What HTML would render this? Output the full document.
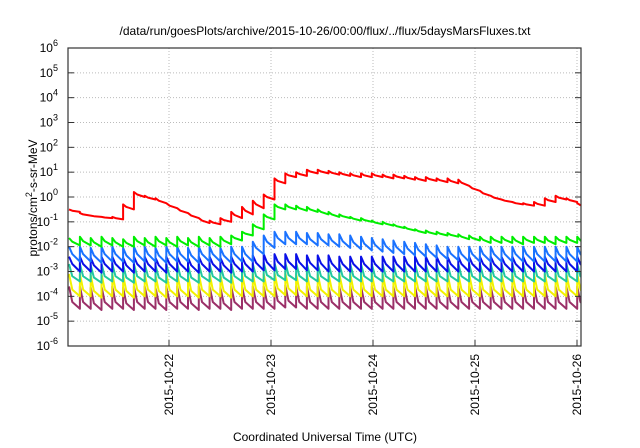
<!DOCTYPE html>
<html><head><meta charset="utf-8"><style>
html,body{margin:0;padding:0;background:#fff;}
svg{display:block;font-family:"Liberation Sans",sans-serif;}
</style></head><body>
<svg id="chart" width="640" height="448" viewBox="0 0 640 448" xmlns="http://www.w3.org/2000/svg">
<text x="325" y="35" font-size="12" text-anchor="middle">/data/run/goesPlots/archive/2015-10-26/00:00/flux/../flux/5daysMarsFluxes.txt</text>
<text transform="translate(37,198) rotate(-90)" font-size="12" text-anchor="middle">protons/cm<tspan dy="-5" font-size="9">2</tspan><tspan dy="5">-s-sr-MeV</tspan></text>
<text x="325" y="441" font-size="12" text-anchor="middle">Coordinated Universal Time (UTC)</text>
<g id="grid"></g><g id="series"></g><g id="axes"></g>
</svg>
<script>
const dayTicks = ["2015-10-22","2015-10-23","2015-10-24","2015-10-25","2015-10-26"];
const yExponents = [-6,-5,-4,-3,-2,-1,0,1,2,3,4,5,6];
const cycleCount = 48;
const cycleStartDay = 0.02, cycleLenDay = 0.106;
const redPeaks = [-0.5,-0.65,-0.75,-0.8,-0.8,-0.3,0.2,0.05,-0.05,-0.25,-0.45,-0.65,-0.85,-0.95,-0.85,-0.6,-0.4,-0.15,0.1,0.75,0.95,1.0,1.1,1.1,1.05,1.0,0.95,0.95,0.95,0.9,0.9,0.85,0.8,0.8,0.75,0.75,0.7,0.45,0.25,0.05,-0.1,-0.2,-0.25,-0.2,-0.05,0.05,-0.05,-0.25];
const redTroughs = [-0.6,-0.75,-0.8,-0.85,-0.9,-0.5,0.0,-0.1,-0.25,-0.45,-0.65,-0.85,-1.05,-1.1,-1.0,-0.85,-0.7,-0.45,-0.1,0.55,0.8,0.85,0.95,0.95,0.9,0.85,0.8,0.8,0.8,0.75,0.75,0.7,0.65,0.65,0.6,0.55,0.45,0.25,0.05,-0.1,-0.2,-0.3,-0.35,-0.35,-0.2,-0.1,-0.2,-0.4];
const greenPeaks = [-1.65,-1.6,-1.65,-1.6,-1.65,-1.7,-1.6,-1.65,-1.6,-1.65,-1.6,-1.65,-1.6,-1.65,-1.6,-1.55,-1.4,-1.1,-0.7,-0.3,-0.3,-0.35,-0.4,-0.5,-0.6,-0.7,-0.8,-0.85,-0.95,-1.0,-1.1,-1.2,-1.3,-1.35,-1.4,-1.45,-1.5,-1.55,-1.6,-1.6,-1.6,-1.6,-1.6,-1.6,-1.6,-1.6,-1.6,-1.6];
const greenTroughs = [-1.95,-1.95,-2.0,-1.95,-2.0,-2.0,-1.95,-2.0,-1.95,-2.0,-1.95,-2.0,-1.95,-2.0,-1.9,-1.75,-1.55,-1.3,-0.9,-0.5,-0.5,-0.55,-0.6,-0.7,-0.8,-0.85,-0.95,-1.0,-1.1,-1.15,-1.25,-1.35,-1.45,-1.5,-1.55,-1.6,-1.7,-1.75,-1.85,-1.85,-1.85,-1.9,-1.85,-1.85,-1.9,-1.85,-1.85,-1.9];
const azurePeaks = [-2.0,-2.0,-2.05,-2.0,-2.0,-2.05,-2.0,-2.0,-2.05,-2.0,-2.0,-2.05,-2.0,-2.0,-2.05,-2.0,-2.0,-1.8,-1.55,-1.4,-1.4,-1.4,-1.45,-1.45,-1.5,-1.5,-1.55,-1.6,-1.65,-1.7,-1.75,-1.8,-1.85,-1.9,-1.95,-2.0,-2.0,-2.0,-2.0,-2.0,-2.0,-2.0,-2.0,-2.0,-2.0,-2.0,-2.0,-2.0];
const azureTroughs = [-2.6,-2.6,-2.65,-2.6,-2.6,-2.65,-2.6,-2.6,-2.65,-2.6,-2.6,-2.65,-2.6,-2.6,-2.65,-2.6,-2.6,-2.3,-2.05,-1.9,-1.9,-1.9,-1.95,-1.95,-2.0,-2.05,-2.1,-2.15,-2.2,-2.25,-2.3,-2.35,-2.4,-2.45,-2.5,-2.55,-2.6,-2.6,-2.6,-2.6,-2.6,-2.6,-2.6,-2.6,-2.6,-2.6,-2.6,-2.6];
const bluePeaks = [-2.4,-2.4,-2.45,-2.4,-2.4,-2.45,-2.4,-2.4,-2.45,-2.4,-2.4,-2.45,-2.4,-2.4,-2.45,-2.4,-2.4,-2.35,-2.3,-2.3,-2.3,-2.3,-2.35,-2.35,-2.35,-2.4,-2.4,-2.4,-2.4,-2.4,-2.4,-2.4,-2.4,-2.4,-2.4,-2.4,-2.4,-2.4,-2.4,-2.4,-2.4,-2.4,-2.4,-2.4,-2.4,-2.4,-2.4,-2.4];
const blueTroughs = [-3.0,-3.0,-3.05,-3.0,-3.0,-3.05,-3.0,-3.0,-3.05,-3.0,-3.0,-3.05,-3.0,-3.0,-3.05,-3.0,-3.0,-2.95,-2.95,-2.9,-2.9,-2.95,-2.95,-3.0,-3.0,-3.0,-3.0,-3.0,-3.0,-3.0,-3.0,-3.0,-3.0,-3.0,-3.0,-3.0,-3.0,-3.0,-3.0,-3.0,-3.0,-3.0,-3.0,-3.0,-3.0,-3.0,-3.0,-3.0];
const tealPeaks = [-2.7,-2.7,-2.75,-2.7,-2.7,-2.75,-2.7,-2.7,-2.75,-2.7,-2.7,-2.75,-2.7,-2.7,-2.75,-2.7,-2.7,-2.7,-2.65,-2.65,-2.65,-2.65,-2.7,-2.7,-2.7,-2.7,-2.7,-2.7,-2.7,-2.7,-2.7,-2.7,-2.7,-2.7,-2.7,-2.7,-2.7,-2.7,-2.7,-2.7,-2.7,-2.7,-2.7,-2.7,-2.7,-2.7,-2.7,-2.7];
const tealTroughs = [-3.4,-3.4,-3.45,-3.4,-3.4,-3.45,-3.4,-3.4,-3.45,-3.4,-3.4,-3.45,-3.4,-3.4,-3.45,-3.4,-3.4,-3.4,-3.35,-3.35,-3.35,-3.4,-3.4,-3.4,-3.4,-3.4,-3.4,-3.4,-3.4,-3.4,-3.4,-3.4,-3.4,-3.4,-3.4,-3.4,-3.4,-3.4,-3.4,-3.4,-3.4,-3.4,-3.4,-3.4,-3.4,-3.4,-3.4,-3.4];
const yellowPeaks = [-3.1,-3.1,-3.15,-3.1,-3.1,-3.15,-3.1,-3.1,-3.15,-3.1,-3.1,-3.15,-3.1,-3.1,-3.15,-3.1,-3.1,-3.1,-3.1,-3.05,-3.05,-3.1,-3.1,-3.1,-3.1,-3.1,-3.1,-3.1,-3.1,-3.1,-3.1,-3.1,-3.1,-3.1,-3.1,-3.1,-3.1,-3.1,-3.1,-3.1,-3.1,-3.1,-3.1,-3.1,-3.1,-3.1,-3.1,-3.1];
const yellowTroughs = [-4.0,-4.0,-4.05,-4.0,-4.0,-4.05,-4.0,-4.0,-4.05,-4.0,-4.0,-4.05,-4.0,-4.0,-4.05,-4.0,-4.0,-4.0,-4.0,-3.95,-3.95,-4.0,-4.0,-4.0,-4.0,-4.0,-4.0,-4.0,-4.0,-4.0,-4.0,-4.0,-4.0,-4.0,-4.0,-4.0,-4.0,-4.0,-4.0,-4.0,-4.0,-4.0,-4.0,-4.0,-4.0,-4.0,-4.0,-4.0];
const purplePeaks = [-3.6,-3.6,-3.65,-3.6,-3.6,-3.65,-3.6,-3.6,-3.65,-3.6,-3.6,-3.65,-3.6,-3.6,-3.65,-3.6,-3.6,-3.6,-3.6,-3.55,-3.55,-3.6,-3.6,-3.6,-3.6,-3.6,-3.6,-3.6,-3.6,-3.6,-3.6,-3.6,-3.6,-3.6,-3.6,-3.6,-3.6,-3.6,-3.6,-3.6,-3.6,-3.6,-3.6,-3.6,-3.6,-3.6,-3.6,-3.6];
const purpleTroughs = [-4.5,-4.5,-4.55,-4.5,-4.5,-4.55,-4.5,-4.5,-4.55,-4.5,-4.5,-4.55,-4.5,-4.5,-4.55,-4.5,-4.5,-4.5,-4.5,-4.45,-4.45,-4.5,-4.5,-4.5,-4.5,-4.5,-4.5,-4.5,-4.5,-4.5,-4.5,-4.5,-4.5,-4.5,-4.5,-4.5,-4.5,-4.5,-4.5,-4.5,-4.5,-4.5,-4.5,-4.5,-4.5,-4.5,-4.5,-4.5];

const L=68,R=581,T=48,B=346;
const dayPx=102, day0X=67;
function xScale(d){return day0X+dayPx*d;}
function yScale(logv){return T+(6-logv)*(B-T)/12;}
const NS="http://www.w3.org/2000/svg";
function mk(tag,attrs,parent){const e=document.createElementNS(NS,tag);for(const k in attrs)e.setAttribute(k,attrs[k]);parent.appendChild(e);return e;}
const grid=document.getElementById('grid'),axes=document.getElementById('axes'),ser=document.getElementById('series');
const svg=document.getElementById('chart');
const defs=mk('defs',{},svg);
const cp=mk('clipPath',{id:'plotclip'},defs);
mk('rect',{x:L,y:T,width:R-L,height:B-T},cp);

yExponents.forEach(e=>{
  const y=yScale(e);
  if(e>-6&&e<6){const g=mk('line',{x1:L,x2:R,y1:y,y2:y,stroke:'#bbb','stroke-dasharray':'1,2','stroke-width':1},grid);
  
  }
  const t1=mk('line',{x1:L,x2:L+6,y1:y,y2:y,stroke:'#333'},axes);
  
  
  const t2=mk('line',{x1:R-6,x2:R,y1:y,y2:y,stroke:'#333'},axes);
  
  
  const lb=mk('text',{x:L-10,y:y+4,'font-size':12,'text-anchor':'end'},axes);
  
  
  lb.textContent='10';
  const sp=mk('tspan',{dy:-6,'font-size':9},lb);sp.textContent=String(e);
});
dayTicks.forEach((d,i)=>{
  const x=xScale(i+1);
  if(x<R-2){const g=mk('line',{x1:x,x2:x,y1:T,y2:B,stroke:'#bbb','stroke-dasharray':'1,2','stroke-width':1},grid);
  
  }
  const t=mk('line',{x1:x,x2:x,y1:B-6,y2:B,stroke:'#333'},axes);
  
  
  const lb=mk('text',{transform:`translate(${x+4},354) rotate(-90)`,'font-size':12,'text-anchor':'end'},axes);
  
  
  lb.textContent=d;
});
const frame=mk('rect',{x:L,y:T,width:R-L,height:B-T,fill:'none',stroke:'#333','stroke-width':1.2},axes);



const seriesList=[
 ['purple',purplePeaks,purpleTroughs,'#9b3068',0.3],
 ['yellow',yellowPeaks,yellowTroughs,'#f2f200',0.3],
 ['teal',tealPeaks,tealTroughs,'#22c8a0',0.3],
 ['blue',bluePeaks,blueTroughs,'#0a10e8',0.5],
 ['azure',azurePeaks,azureTroughs,'#1a72ff',0.5],
 ['green',greenPeaks,greenTroughs,'#00ee00',0.5],
 ['red',redPeaks,redTroughs,'#ff0000',0.5]
];
seriesList.forEach(([nm,pk,tr,col,mid])=>{
  let d='';
  for(let k=0;k<cycleCount;k++){
    const s=cycleStartDay+k*cycleLenDay, e=s+cycleLenDay;
    const xs=xScale(s), xe=xScale(e), xm=xScale(s+cycleLenDay*0.3);
    const ym=yScale(tr[k]+(pk[k]-tr[k])*mid);
    d+=(k===0?'M':'L')+xs.toFixed(1)+','+yScale(pk[k]).toFixed(1)+' L'+xm.toFixed(1)+','+ym.toFixed(1)+' L'+xe.toFixed(1)+','+yScale(tr[k]).toFixed(1)+' ';
  }
  const p=mk('path',{d:d,fill:'none',stroke:col,'stroke-width':2,'stroke-linejoin':'round','clip-path':'url(#plotclip)'},ser);
  
  
});
</script>
</body></html>
